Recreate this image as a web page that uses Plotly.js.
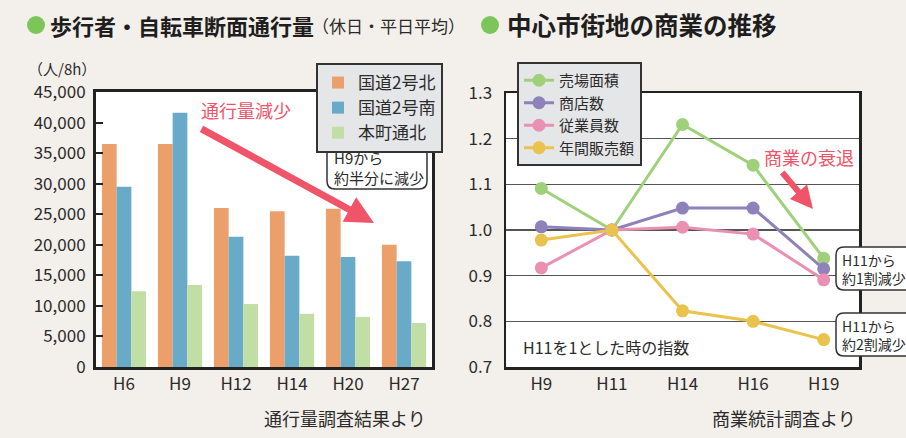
<!DOCTYPE html>
<html>
<head>
<meta charset="utf-8">
<script src="https://cdn.plot.ly/plotly-3.0.1.min.js"></script>
<style>
html,body{margin:0;padding:0;background:#f3efea;}
#chart{width:906px;height:438px;}
</style>
</head>
<body>
<div id="chart"></div>
<script>
// ---- Data: left chart (pedestrian / bicycle traffic, persons per 8h) ----
const years1 = ['H6', 'H9', 'H12', 'H14', 'H20', 'H27'];
const route2North = [36500, 36500, 26000, 25500, 25900, 20000];
const route2South = [29500, 41600, 21300, 18200, 18000, 17300];
const honmachiNorth = [12400, 13400, 10300, 8700, 8200, 7200];
const seriesNames1 = ['国道2号北', '国道2号南', '本町通北'];
const yTicks1 = [0, 5000, 10000, 15000, 20000, 25000, 30000, 35000, 40000, 45000];

// ---- Data: right chart (index, H11 = 1) ----
const years2 = ['H9', 'H11', 'H14', 'H16', 'H19'];
const floorArea = [1.091, 1.0, 1.231, 1.142, 0.938];
const storeCount = [1.007, 1.0, 1.048, 1.048, 0.915];
const employees = [0.917, 1.0, 1.006, 0.991, 0.891];
const annualSales = [0.978, 1.0, 0.823, 0.800, 0.760];
const seriesNames2 = ['売場面積', '商店数', '従業員数', '年間販売額'];
const yTicks2 = [0.7, 0.8, 0.9, 1.0, 1.1, 1.2, 1.3];

const W = 906, H = 438;
const px = x => x / W;
const py = y => 1 - y / H;
const FONT = '"Noto Sans CJK JP", "Noto Sans", sans-serif';
const TXT = '#2b2b2b';
const RED = '#ef5468';

const barColors = ['#eba06b', '#69aac8', '#c1dea5'];
const lineColors = ['#9fd07a', '#8f81b9', '#ea90b2', '#e9c34d'];

const traces = [];
[route2North, route2South, honmachiNorth].forEach((vals, i) => {
  traces.push({
    type: 'bar', x: years1, y: vals, name: seriesNames1[i],
    marker: {color: barColors[i], line: {width: 0}},
    xaxis: 'x', yaxis: 'y', legend: 'legend',
    legendgroup: 'g1_' + i
  });
});
[floorArea, storeCount, employees, annualSales].forEach((vals, i) => {
  traces.push({
    type: 'scatter', mode: 'lines+markers', x: years2, y: vals, name: seriesNames2[i],
    line: {color: lineColors[i], width: 3},
    marker: {color: lineColors[i], size: 13},
    xaxis: 'x2', yaxis: 'y2', legend: 'legend2', cliponaxis: false
  });
});

function roundRect(x0, y0, x1, y1, r) {
  const rx = r / W, ry = r / H;
  const X0 = px(x0), X1 = px(x1), Y0 = py(y0), Y1 = py(y1);
  return `M ${X0 + rx} ${Y0} L ${X1 - rx} ${Y0} Q ${X1} ${Y0} ${X1} ${Y0 - ry} ` +
    `L ${X1} ${Y1 + ry} Q ${X1} ${Y1} ${X1 - rx} ${Y1} L ${X0 + rx} ${Y1} ` +
    `Q ${X0} ${Y1} ${X0} ${Y1 + ry} L ${X0} ${Y0 - ry} Q ${X0} ${Y0} ${X0 + rx} ${Y0} Z`;
}

const shapes = [
  {type: 'circle', xref: 'paper', yref: 'paper', x0: px(27), x1: px(45), y0: py(34), y1: py(16),
    fillcolor: '#7cc659', line: {width: 0}},
  {type: 'circle', xref: 'paper', yref: 'paper', x0: px(481), x1: px(499), y0: py(34), y1: py(16),
    fillcolor: '#7cc659', line: {width: 0}},
  {type: 'path', xref: 'paper', yref: 'paper', path: roundRect(327, 146, 427, 189, 8),
    fillcolor: '#ffffff', line: {color: '#333', width: 1.5}},
  {type: 'path', xref: 'paper', yref: 'paper', path: roundRect(836, 247, 930, 290, 8),
    fillcolor: '#ffffff', line: {color: '#333', width: 1.5}},
  {type: 'path', xref: 'paper', yref: 'paper', path: roundRect(836, 313, 930, 356, 8),
    fillcolor: '#ffffff', line: {color: '#333', width: 1.5}}
];

const ann = (text, x, y, opts) => Object.assign({
  text, xref: 'paper', yref: 'paper', x: px(x), y: py(y), showarrow: false,
  xanchor: 'left', yanchor: 'middle', align: 'left',
  font: {family: FONT, size: 16, color: TXT}
}, opts || {});

const annotations = [
  ann('<b>歩行者・自転車断面通行量</b>', 48, 25, {font: {family: FONT, size: 22, color: '#1e1e1e'}}),
  ann('（休日・平日平均）', 310, 26, {font: {family: FONT, size: 17, color: TXT}}),
  ann('<b>中心市街地の商業の推移</b>', 505, 25, {font: {family: FONT, size: 24.5, color: '#1e1e1e'}}),
  ann('（人/8h）', 26, 69, {font: {family: FONT, size: 15, color: TXT}}),
  ann('通行量調査結果より', 428, 418, {xanchor: 'right', font: {family: FONT, size: 18, color: TXT}}),
  ann('商業統計調査より', 858, 418, {xanchor: 'right', font: {family: FONT, size: 18, color: TXT}}),
  ann('H11を1とした時の指数', 521, 347, {font: {family: FONT, size: 16, color: TXT}}),
  ann('通行量減少', 199, 110, {font: {family: FONT, size: 18, color: RED}}),
  ann('商業の衰退', 762, 157, {font: {family: FONT, size: 18, color: RED}}),
  ann('H9から<br>約半分に減少', 332, 167.5, {font: {family: FONT, size: 15, color: TXT}}),
  ann('H11から<br>約1割減少', 840, 268.5, {font: {family: FONT, size: 14, color: TXT}}),
  ann('H11から<br>約2割減少', 840, 334.5, {font: {family: FONT, size: 14, color: TXT}}),
  // arrows
  {text: '', xref: 'paper', yref: 'paper', x: px(374), y: py(223), axref: 'pixel', ayref: 'pixel',
    ax: -174, ay: -95, showarrow: true, arrowhead: 2, arrowsize: 0.8, arrowwidth: 7, arrowcolor: RED},
  {text: '', xref: 'paper', yref: 'paper', x: px(813), y: py(209), axref: 'pixel', ayref: 'pixel',
    ax: -32, ay: -38, showarrow: true, arrowhead: 2, arrowsize: 0.75, arrowwidth: 6, arrowcolor: RED}
];

const layout = {
  width: W, height: H,
  margin: {l: 0, r: 0, t: 0, b: 0},
  paper_bgcolor: '#f3efea',
  plot_bgcolor: '#ffffff',
  font: {family: FONT, color: TXT, size: 16},
  showlegend: true,
  barmode: 'group', bargap: 0.21, bargroupgap: 0,
  xaxis: {
    domain: [px(96), px(432)], anchor: 'y', type: 'category', range: [-0.5, 5.5],
    showline: true, mirror: true, linecolor: '#222', linewidth: 3,
    ticks: '', showgrid: false, zeroline: false, fixedrange: true,
    tickfont: {family: FONT, size: 17, color: TXT}
  },
  yaxis: {
    domain: [1 - 367 / H, 1 - 92 / H], anchor: 'x', range: [0, 45000],
    tickvals: yTicks1, tickformat: ',d',
    showline: true, mirror: true, linecolor: '#222', linewidth: 3,
    ticks: 'inside', ticklen: 7, tickwidth: 2, tickcolor: '#222',
    showgrid: false, zeroline: false, ticklabelstandoff: 4,
    tickfont: {family: FONT, size: 17, color: TXT}
  },
  xaxis2: {
    domain: [px(506), px(859)], anchor: 'y2', type: 'category', range: [-0.5, 4.5],
    showline: true, mirror: true, linecolor: '#222', linewidth: 2.5,
    ticks: '', showgrid: false, zeroline: false,
    tickfont: {family: FONT, size: 17, color: TXT}
  },
  yaxis2: {
    domain: [1 - 367 / H, 1 - 93 / H], anchor: 'x2', range: [0.7, 1.3],
    tickvals: yTicks2, tickformat: '.1f',
    showline: true, mirror: true, linecolor: '#222', linewidth: 2.5,
    ticks: '', showgrid: true, gridcolor: '#555', gridwidth: 1.3, zeroline: false,
    ticklabelstandoff: 8,
    tickfont: {family: FONT, size: 17, color: TXT}
  },
  legend: {
    x: px(316), y: py(63), xanchor: 'left', yanchor: 'top',
    bgcolor: '#e5e6e8', bordercolor: '#333', borderwidth: 2,
    font: {family: FONT, size: 17, color: TXT}, tracegroupgap: 2, traceorder: 'normal'
  },
  legend2: {
    x: px(517), y: py(62), xanchor: 'left', yanchor: 'top',
    bgcolor: '#e5e6e8', bordercolor: '#333', borderwidth: 2,
    font: {family: FONT, size: 15, color: TXT}, traceorder: 'normal'
  },
  shapes, annotations
};

Plotly.newPlot('chart', traces, layout, {displayModeBar: false, staticPlot: true});
</script>
</body>
</html>
